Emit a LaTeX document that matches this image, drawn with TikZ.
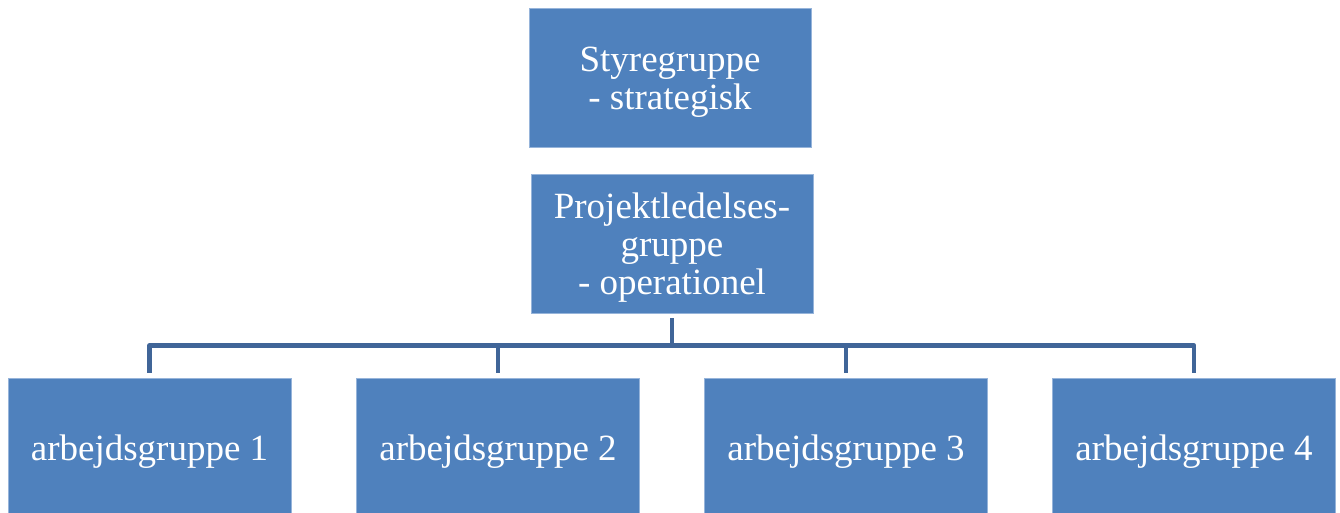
\documentclass[tikz,border=0pt]{standalone}
\usepackage{fontspec}
\setmainfont{Liberation Serif}
\usetikzlibrary{calc}
\definecolor{boxfill}{RGB}{79,129,189}
\definecolor{boxedge}{RGB}{150,180,218}
\definecolor{conncol}{RGB}{64,101,152}
\newcommand{\topstrut}{\rule{0pt}{33pt}}
\begin{document}
\begin{tikzpicture}[x=1pt,y=-1pt,
  orgbox/.style={rectangle, fill=boxfill, draw=boxedge, line width=0.8pt,
    minimum width=282pt, minimum height=139pt, inner sep=2pt, align=center,
    text=white, font=\fontsize{37}{38}\selectfont},
  workbox/.style={orgbox, minimum width=283pt, minimum height=140pt},
  conn/.style={draw=conncol, line width=4.5pt, line join=round, shorten <=5pt, shorten >=5pt}]
\useasboundingbox (0,0) rectangle (1340,513);
\clip (0,0) rectangle (1340,513);
\node[orgbox] (top) at (670,77.5) {\topstrut Styregruppe\\- strategisk};
\node[orgbox] (mid) at (672,243.5) {\topstrut Projektledelses-\\gruppe\\- operationel};
\node[workbox] (a1) at (149.5,448) {\topstrut arbejdsgruppe 1};
\node[workbox] (a2) at (498,448) {\topstrut arbejdsgruppe 2};
\node[workbox] (a3) at (846,448) {\topstrut arbejdsgruppe 3};
\node[workbox] (a4) at (1194,448) {\topstrut arbejdsgruppe 4};
\foreach \t in {a1,a2,a3,a4}{
  \draw[conn] (mid.south) -- ($(mid.south)+(0,32)$) -| (\t.north);
}
\end{tikzpicture}
\end{document}
